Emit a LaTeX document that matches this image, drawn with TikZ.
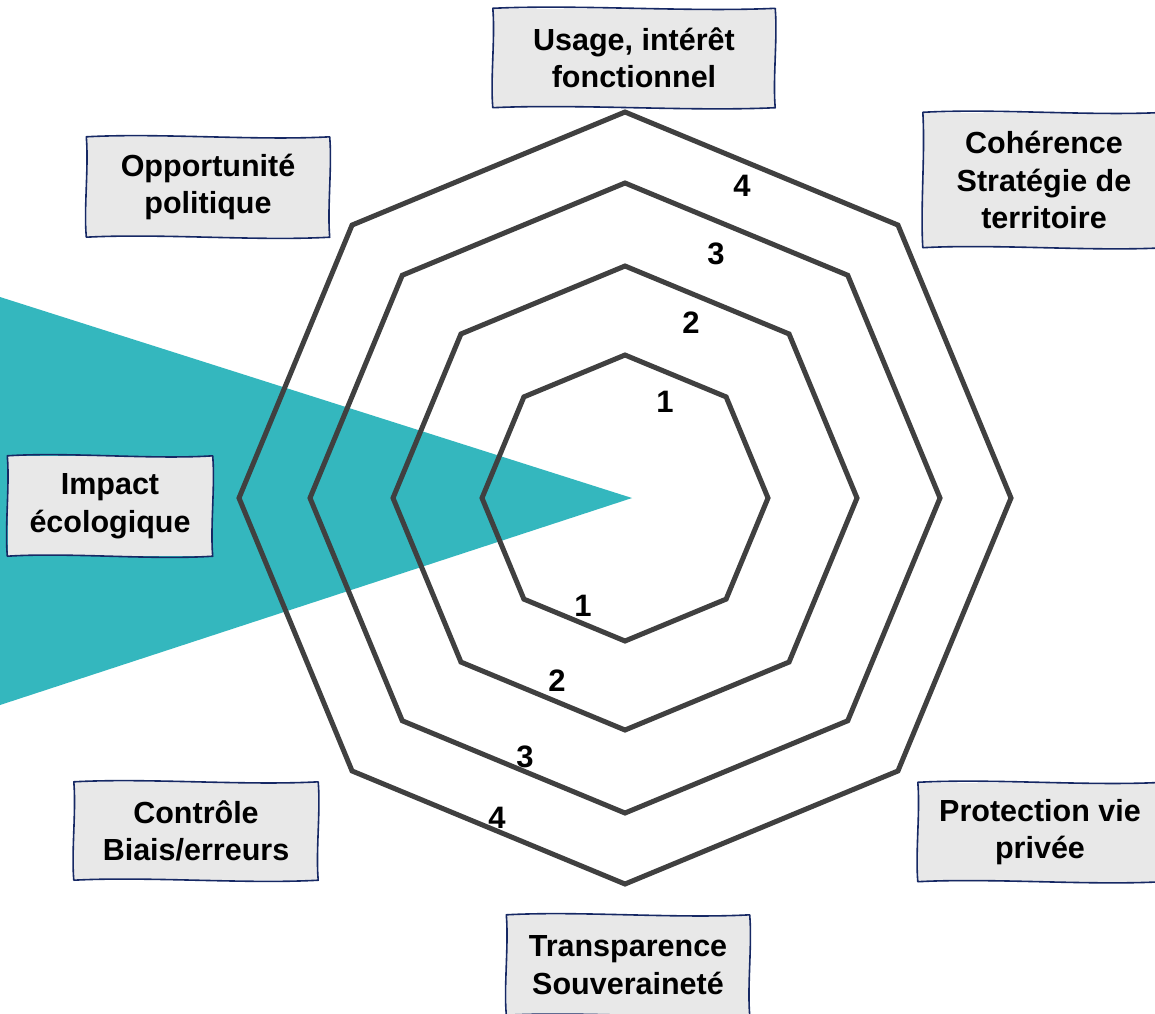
\documentclass[tikz,border=0pt]{standalone}
\usepackage{fontspec}
\setmainfont{Liberation Sans}
\usetikzlibrary{calc}
\definecolor{teal1}{RGB}{52,183,190}
\definecolor{octa}{RGB}{64,64,64}
\definecolor{boxfill}{RGB}{232,232,232}
\definecolor{navy}{RGB}{22,40,100}
\newcommand{\wavyborder}[1]{%
  \draw[navy, line width=1.6pt, line join=round]
    (#1.north west)
    .. controls ($(#1.north west)!0.3!(#1.north east)+(0,-4)$) and ($(#1.north west)!0.7!(#1.north east)+(0,4)$) .. (#1.north east)
    .. controls ($(#1.north east)!0.3!(#1.south east)+(2.5,0)$) and ($(#1.north east)!0.7!(#1.south east)+(-2.5,0)$) .. (#1.south east)
    .. controls ($(#1.south east)!0.3!(#1.south west)+(0,4)$) and ($(#1.south east)!0.7!(#1.south west)+(0,-4)$) .. (#1.south west)
    .. controls ($(#1.south west)!0.3!(#1.north west)+(-2.5,0)$) and ($(#1.south west)!0.7!(#1.north west)+(2.5,0)$) .. (#1.north west) -- cycle;}
\begin{document}
\begin{tikzpicture}[x=1pt,y=-1pt,
  octline/.style={draw=octa, line width=5pt, line join=miter},
  lbl/.style={fill=boxfill, align=center, inner sep=0pt,
     font=\bfseries\fontsize{30.5}{37.5}\selectfont},
  num/.style={font=\bfseries\fontsize{31}{34}\selectfont, inner sep=0pt}]
\useasboundingbox (0,0) rectangle (1155,1013);
\fill[white] (0,0) rectangle (1155,1013);
% teal wedge
\coordinate (tA) at (0,297);
\coordinate (tB) at (632,498);
\coordinate (tC) at (0,705);
\fill[teal1] (tA) -- (tB) -- (tC) -- cycle;
% octagons
\coordinate (O) at (625,498);
\foreach \r in {386,315,232,143}{
  \draw[octline] ([shift={(90:\r)}]O)
    \foreach \a in {45,0,-45,-90,-135,180,135}{ -- ([shift={(\a:\r)}]O) } -- cycle;
}
% number labels
\node[num] (n4a) at (742,186) {4};
\node[num] (n3a) at (716,254) {3};
\node[num] (n2a) at (691,323) {2};
\node[num] (n1a) at (665,402) {1};
\node[num] (n1b) at (583,606) {1};
\node[num] (n2b) at (557,681) {2};
\node[num] (n3b) at (525,757) {3};
\node[num] (n4b) at (497,818) {4};
% labels
\node[lbl, minimum width=282pt, minimum height=99pt] (usage) at (634,58) {Usage, intérêt\\fonctionnel};
\node[lbl, minimum width=242pt, minimum height=135pt] (coh) at (1044,180) {Cohérence\\Stratégie de\\territoire};
\node[lbl, minimum width=243pt, minimum height=100pt] (opp) at (208,187) {Opportunité\\politique};
\node[lbl, minimum width=205pt, minimum height=100pt] (imp) at (110,506) {Impact\\écologique};
\node[lbl, minimum width=244pt, minimum height=99pt] (prot) at (1040,832) {Protection vie\\privée};
\node[lbl, minimum width=243pt, minimum height=100pt] (trans) at (628,965) {Transparence\\Souveraineté};
\node[lbl, minimum width=244pt, minimum height=98pt] (ctrl) at (196,831) {Contrôle\\Biais/erreurs};
\wavyborder{usage}
\wavyborder{coh}
\wavyborder{opp}
\wavyborder{imp}
\wavyborder{prot}
\wavyborder{trans}
\wavyborder{ctrl}
\end{tikzpicture}
\end{document}
